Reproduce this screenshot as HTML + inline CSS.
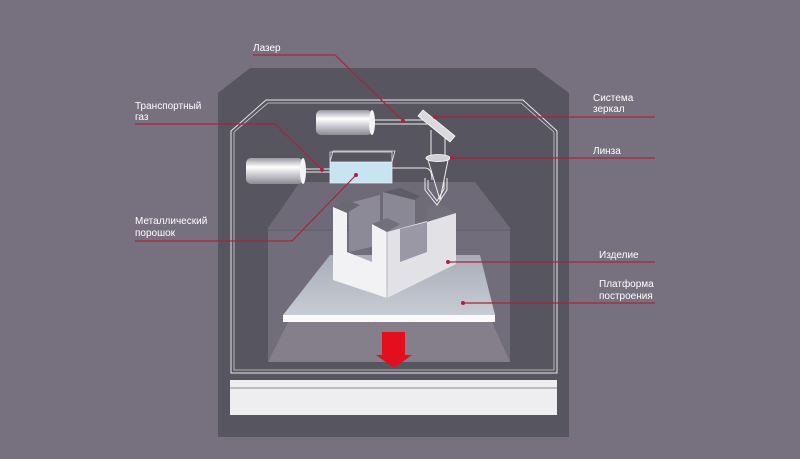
<!DOCTYPE html>
<html><head><meta charset="utf-8"><style>
html,body{margin:0;padding:0;background:#76707f;}
svg{display:block}
text{font-family:"Liberation Sans",sans-serif;font-size:10px;fill:#fff}
</style></head><body>
<svg width="800" height="459" viewBox="0 0 800 459">
<defs>
<linearGradient id="cyl" x1="0" y1="0" x2="0" y2="1">
<stop offset="0" stop-color="#9a98a0"/><stop offset="0.35" stop-color="#ffffff"/><stop offset="1" stop-color="#8c8a94"/>
</linearGradient>
<linearGradient id="plat" x1="0" y1="0" x2="0" y2="1">
<stop offset="0" stop-color="#a9adb8"/><stop offset="1" stop-color="#c7cbd4"/>
</linearGradient>
</defs>
<rect width="800" height="459" fill="#76707f"/>
<polygon points="250,68 535,68 569,93 569,437 218,437 218,93" fill="#57555f"/>
<polygon points="300,182 475,182 510,228 510,362 268,362 268,228" fill="#726d7a"/>
<polygon points="300,182 475,182 510,228 268,228" fill="#6e6a77"/>
<line x1="268" y1="230" x2="510" y2="230" stroke="#5e5b66" stroke-width="1"/>
<polygon points="288,322 492,322 510,362 268,362" fill="#857f8c"/>
<polygon points="266,100 523,100 557,131 557,373 231,373 231,131" fill="none" stroke="#e8e8ee" stroke-width="1"/>
<polygon points="268,103 521,103 554,132 554,370 234,370 234,132" fill="none" stroke="#d0d0d8" stroke-width="0.8"/>
<rect x="230" y="380" width="327" height="35" fill="#eeeef0"/>
<line x1="230" y1="388" x2="557" y2="388" stroke="#8a8894" stroke-width="1"/>
<polygon points="330,255 480,255 495,315 283,315" fill="url(#plat)"/>
<rect x="283" y="315" width="212" height="7" fill="#fafafa"/>
<!-- object -->
<polygon points="349,203 380,195 380,245 349,252" fill="#8c8a96"/>
<polygon points="383,192 415,200 415,245 383,240" fill="#8a8894"/>
<polygon points="383,192 400,188 420,196 415,200" fill="#5e5c66"/>
<polygon points="333,207 347,200 360,205 347,213" fill="#6a6872"/>
<polygon points="333,207 347,213 347,252 372,262 372,224 387,232 387,298 333,280" fill="#f2f2f4"/>
<polygon points="387,232 456,213 456,264 387,298" fill="#e2e2e6"/>
<polygon points="400,229 427,222 427,252 400,262" fill="#9a98a4"/>
<polygon points="372,224 387,218 400,224 387,232" fill="#72707a"/>
<polygon points="427,208 440,204 456,213 427,222" fill="#72707a"/>
<line x1="387" y1="232" x2="387" y2="298" stroke="#b8b8c0" stroke-width="1"/>
<rect x="316" y="110" width="56" height="25" rx="5" fill="url(#cyl)"/>
<ellipse cx="372" cy="122.5" rx="3" ry="12.5" fill="#f4f4f6"/>
<rect x="246" y="158" width="57" height="26" rx="5" fill="url(#cyl)"/>
<ellipse cx="303" cy="171" rx="3" ry="13" fill="#f4f4f6"/>
<g stroke="#eee" stroke-width="1" fill="none">
<path d="M372,120 H430 M372,124 H430"/>
<path d="M303,169 H331 M303,172 H331"/>
<path d="M392,168 H425 Q432,168 432,180"/>
<path d="M431,130 V160 M445,135 V160"/>
<path d="M428,160 L440,200 L448,160"/>
<path d="M425,178 L425,190 L437,205 L447,190 L447,178"/>
<path d="M428,180 L428,189 L437,201 L444,189 L444,180"/>
</g>
<polygon points="418,116 423,110 455,136 450,142" fill="#d9d9de" stroke="#fff" stroke-width="0.8"/>
<ellipse cx="438" cy="158" rx="12" ry="3.5" fill="#cfcfd6" stroke="#fff" stroke-width="0.8"/>
<rect x="330" y="162" width="62" height="21" fill="#c8e4f0"/>
<polygon points="330,162 333,151 395,151 392,162" fill="none" stroke="#e8e8ee" stroke-width="0.8"/>
<rect x="330" y="152" width="62" height="31" fill="none" stroke="#e8e8ee" stroke-width="0.8"/>
<polygon points="382,332 405,332 405,355 412,355 394,368 376,355 382,355" fill="#e30f1e"/>
<g stroke="#a8253e" stroke-width="1.2" fill="none">
<path d="M253,55 H335 L403,121"/>
<path d="M135,124 H275 L322,170"/>
<path d="M135,241 H292 L356,175"/>
<path d="M435,117 H655"/>
<path d="M452,158 H655"/>
<path d="M448,262 H655"/>
<path d="M463,303 H655"/>
</g>
<g fill="#b0203c">
<circle cx="403" cy="121" r="2"/><circle cx="322" cy="170" r="2"/><circle cx="356" cy="175" r="2"/>
<circle cx="435" cy="117" r="2"/><circle cx="452" cy="158" r="2"/><circle cx="448" cy="262" r="2"/><circle cx="463" cy="303" r="2"/>
</g>
<text x="253" y="51">Лазер</text>
<text x="135" y="109">Транспортный</text>
<text x="135" y="120">газ</text>
<text x="135" y="224">Металлический</text>
<text x="135" y="236">порошок</text>
<text x="593" y="101">Система</text>
<text x="593" y="112">зеркал</text>
<text x="593" y="154">Линза</text>
<text x="599" y="258">Изделие</text>
<text x="599" y="287">Платформа</text>
<text x="599" y="299">построения</text>
</svg>
</body></html>
